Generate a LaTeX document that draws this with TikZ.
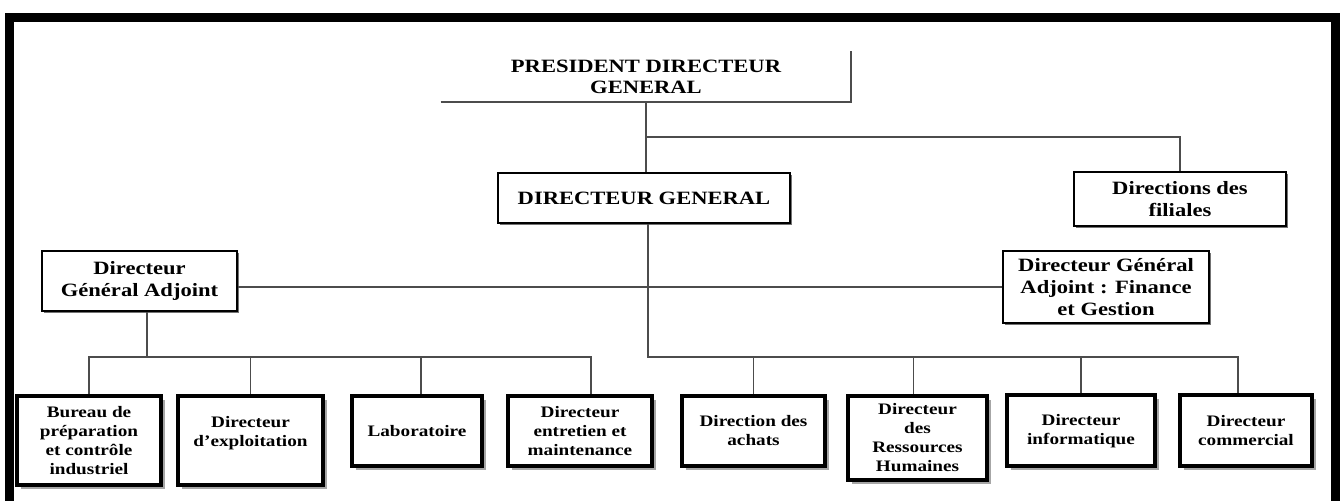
\documentclass[tikz,border=0pt]{standalone}
\usepackage{fontspec}
\setmainfont{Liberation Serif}[FakeStretch=1.2]
\usetikzlibrary{shadows}

\begin{document}
\begin{tikzpicture}[
    x=0.5pt, y=-0.5pt,
    headtext/.style={align=center, inner sep=1pt, font=\fontsize{9.4}{10.5}\selectfont\bfseries},
    topbox/.style={draw, line width=0.75pt, align=center, fill=white, inner sep=1pt,
        drop shadow={shadow xshift=1.2pt, shadow yshift=-1.2pt, fill=black!55, opacity=1},
        font=\fontsize{9.4}{11}\selectfont\bfseries},
    unitbox/.style={draw, line width=2pt, align=center, fill=white, inner sep=1pt,
        drop shadow={shadow xshift=1.8pt, shadow yshift=-1.8pt, fill=black!35, opacity=1},
        font=\fontsize{8}{9.5}\selectfont\bfseries},
    link/.style={draw=black!70, line width=0.75pt}
]
    \useasboundingbox (0,0) rectangle (1344,501);

    % outer frame
    \draw[line width=4.5pt, line join=miter] (9.5,501) -- (9.5,17.5) -- (1335.5,17.5) -- (1335.5,501);

    % PDG
    \node[headtext, minimum width=205pt, minimum height=25.5pt] (pdg) at (646,76.5) {PRESIDENT DIRECTEUR\\GENERAL};
    \draw[link, line width=1pt] (pdg.south west) -- (pdg.south east) -- (pdg.north east);

    % DG and filiales
    \node[topbox, minimum width=146pt, minimum height=25pt] (dg) at (644,198) {DIRECTEUR GENERAL};
    \node[topbox, minimum width=106pt, minimum height=27pt] (fil) at (1180,199) {Directions des\\filiales};

    % adjoints
    \node[topbox, minimum width=97.5pt, minimum height=30pt] (dga) at (139.5,281) {Directeur\\Général Adjoint};
    \node[topbox, minimum width=103pt, minimum height=36pt] (dgaf) at (1106,287) {Directeur Général\\Adjoint : Finance\\et Gestion};

    % directions
    \node[unitbox, minimum width=72pt, minimum height=44.5pt] (bur) at (89,440.5) {Bureau de\\préparation\\et contrôle\\industriel};
    \node[unitbox, minimum width=72.5pt, minimum height=44.5pt] (expl) at (250.5,440.5) {Directeur\\d’exploitation\\\mbox{}};
    \node[unitbox, minimum width=65pt, minimum height=35pt] (lab) at (417,431) {Laboratoire};
    \node[unitbox, minimum width=72pt, minimum height=35pt] (ent) at (580,431) {Directeur\\entretien et\\maintenance};
    \node[unitbox, minimum width=71.5pt, minimum height=35pt] (ach) at (753.5,431) {Direction des\\achats};
    \node[unitbox, minimum width=69.5pt, minimum height=42pt] (rh) at (917.5,438) {Directeur\\des\\Ressources\\Humaines};
    \node[unitbox, minimum width=74pt, minimum height=35.5pt] (info) at (1081,431) {Directeur\\informatique};
    \node[unitbox, minimum width=66pt, minimum height=35.5pt] (com) at (1246,431) {Directeur\\commercial};

    \coordinate (br) at (646,137);
    \coordinate (bus) at (0,357);

    % links from the top
    \draw[link] (pdg.south) -- (pdg.south |- dg.north);
    \draw[link] (br) -| (fil.north);
    \draw[link] (dgaf.west) -- (dgaf.west -| dga.east);

    % left group
    \draw[link] ([xshift=3.75pt]dga.south) -- ([xshift=3.75pt]dga.south |- bus);
    \draw[link] (bur.north) -- (bur.north |- bus) -- ([xshift=5.5pt]ent.north |- bus) -- ([xshift=5.5pt]ent.north);
    \draw[link] (expl.north) -- (expl.north |- bus);
    \draw[link] ([xshift=2pt]lab.north) -- ([xshift=2pt]lab.north |- bus);

    % right group
    \draw[link] ([xshift=2pt]dg.south) -- ([xshift=2pt]dg.south |- bus) -- ([xshift=-4pt]com.north |- bus) -- ([xshift=-4pt]com.north);
    \draw[link] (ach.north) -- (ach.north |- bus);
    \draw[link] ([xshift=-2pt]rh.north) -- ([xshift=-2pt]rh.north |- bus);
    \draw[link] (info.north) -- (info.north |- bus);

\end{tikzpicture}
\end{document}
